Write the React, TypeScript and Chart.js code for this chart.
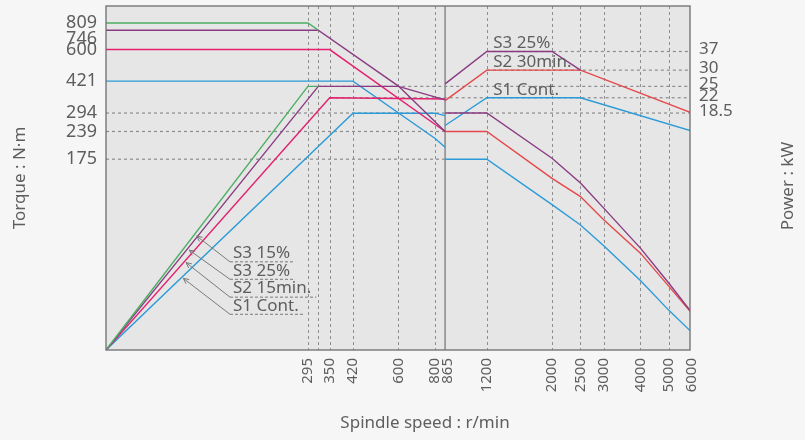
import React, { useEffect, useRef } from "react";
import { Chart, registerables } from "chart.js";

Chart.register(...registerables);

const FONT = "'Noto Sans', sans-serif";
const TEXT = "#5e5e5e";

// ---- axes ----
const SPEED_TICKS = [295, 320, 350, 420, 600, 800, 865, 1200, 2000, 2500, 3000, 4000, 5000, 6000];
const SPEED_LABELS = ["295", "", "350", "420", "600", "800", "865", "1200", "2000", "2500", "3000", "4000", "5000", "6000"];
const TORQUE_TICKS = [175, 239, 294, 421, 600, 746, 809];
const POWER_TICKS = [18.5, 22, 25, 30, 37];
const WINDING_SWITCH = 865;
const SPEED_RANGE = [60.6, 5900];
const TORQUE_RANGE = [20.5, 979];
const POWER_RANGE = [1.292, 61.7];

type Pt = [number, number];

// ---- low-speed winding (rpm, N·m / kW) ----
const S3_15_TORQUE: Pt[] = [[60.6, 809], [295, 809], [320, 746]];
const S3_15_POWER: Pt[] = [[60.6, 1.292], [295, 25], [320, 25]];
const S3_25_TORQUE_LOW: Pt[] = [[60.6, 746], [320, 746], [600, 398], [865, 239]];
const S3_25_POWER_LOW: Pt[] = [[60.6, 1.292], [320, 25], [600, 25], [865, 21.5]];
const S2_15_TORQUE: Pt[] = [[60.6, 600], [350, 600], [865, 239]];
const S2_15_POWER: Pt[] = [[60.6, 1.292], [350, 22], [865, 21.7]];
const S1_TORQUE_LOW: Pt[] = [[60.6, 421], [420, 421], [800, 221], [865, 200]];
const S1_POWER_LOW: Pt[] = [[60.6, 1.292], [420, 18.5], [800, 18.5], [865, 18]];

// ---- high-speed winding ----
const S3_25_TORQUE_HIGH: Pt[] = [[865, 294], [1200, 294], [2000, 177], [2500, 134], [3000, 101], [4000, 64.4], [5000, 43.4], [6000, 31]];
const S3_25_POWER_HIGH: Pt[] = [[865, 25.7], [1200, 37], [2000, 37], [2500, 30]];
const S2_30_TORQUE: Pt[] = [[865, 239], [1200, 239], [2000, 141], [2500, 115], [3000, 88.5], [4000, 60.9], [5000, 41.9], [6000, 30.8]];
const S2_30_POWER: Pt[] = [[865, 21.3], [1200, 30], [2500, 30], [6000, 18.5]];
const S1_TORQUE_HIGH: Pt[] = [[865, 175], [1200, 175], [2000, 105], [2500, 83.6], [3000, 66.1], [4000, 44.8], [5000, 32], [6000, 24.9]];
const S1_POWER_HIGH: Pt[] = [[865, 16.1], [1200, 22], [2500, 22], [6000, 15.1]];

// ---- dotted reference lines ----
const TORQUE_REF_VALUES = [294, 239, 175];
const TORQUE_REF_FROM = [60.6, 60.6, 60.6];
const TORQUE_REF_TO = [6000, 865, 865];
const POWER_REF_VALUES = [37, 30, 25, 22];
const POWER_REF_FROM = [1200, 1200, 320, 350];
const POWER_REF_TO = [6000, 6000, 6000, 6000];

// ---- in-plot labels ----
const HIGH_LABELS = ["S3 25%", "S2 30min.", "S1 Cont."];
const HIGH_LABEL_RPM = 1262;
const HIGH_LABEL_KW = [40.6, 32.7, 24.0];
const LEADER_LABELS = ["S3 15%", "S3 25%", "S2 15min.", "S1 Cont."];
const LEADER_TIP_RPM = [123.4, 116.4, 113.5, 111.1];
const LEADER_TIP_KW = [4.65, 3.97, 3.45, 2.89];
const LEADER_ELBOW_RPM = 160.2;
const LEADER_ELBOW_KW = [3.48, 2.86, 2.34, 1.93];

const COLORS = {
  green: "#4cae63",
  purple: "#8a3b82",
  pink: "#e4206f",
  red: "#e5484b",
  blue: "#2b9bd8",
  ref: "#8c8c8c",
};

const toXY = (pts: Pt[]) => pts.map(([x, y]) => ({ x, y }));

function series(pts: Pt[], color: string, axis: string) {
  return {
    data: toXY(pts),
    borderColor: color,
    borderWidth: 1.4,
    pointRadius: 0,
    fill: false,
    tension: 0,
    yAxisID: axis,
    order: 1,
  };
}

function refLine(from: number, to: number, v: number, axis: string) {
  return {
    data: [{ x: from, y: v }, { x: to, y: v }],
    borderColor: COLORS.ref,
    borderWidth: 1.2,
    borderDash: [3, 3],
    pointRadius: 0,
    fill: false,
    yAxisID: axis,
    order: 10,
  };
}

const noPad = (s: any) => {
  s.paddingTop = 0;
  s.paddingBottom = 0;
  s.paddingLeft = 0;
  s.paddingRight = 0;
};

const decorPlugin = {
  id: "decor",
  beforeDraw(chart: any) {
    const { ctx, chartArea: a } = chart;
    const xs = chart.scales.x;
    ctx.save();
    ctx.fillStyle = "#e6e6e6";
    ctx.fillRect(a.left, a.top, a.right - a.left, a.bottom - a.top);
    ctx.strokeStyle = "#8f8f8f";
    ctx.lineWidth = 1;
    ctx.setLineDash([3, 3]);
    for (const v of SPEED_TICKS) {
      if (v === WINDING_SWITCH || v === 6000) continue;
      const px = Math.round(xs.getPixelForValue(v)) + 0.5;
      ctx.beginPath();
      ctx.moveTo(px, a.top);
      ctx.lineTo(px, a.bottom);
      ctx.stroke();
    }
    ctx.restore();
  },
  afterDatasetsDraw(chart: any) {
    const { ctx, chartArea: a } = chart;
    const xs = chart.scales.x;
    const p = chart.scales.y2;
    ctx.save();
    ctx.strokeStyle = "#6e6e6e";
    ctx.lineWidth = 1.3;
    ctx.strokeRect(a.left, a.top, a.right - a.left, a.bottom - a.top);

    ctx.font = `17px ${FONT}`;
    ctx.fillStyle = TEXT;
    ctx.textBaseline = "middle";
    ctx.textAlign = "left";
    HIGH_LABELS.forEach((t, i) => {
      ctx.fillText(t, xs.getPixelForValue(HIGH_LABEL_RPM), p.getPixelForValue(HIGH_LABEL_KW[i]));
    });

    LEADER_LABELS.forEach((t, i) => {
      const tx = xs.getPixelForValue(LEADER_TIP_RPM[i]);
      const ty = p.getPixelForValue(LEADER_TIP_KW[i]);
      const ex = xs.getPixelForValue(LEADER_ELBOW_RPM);
      const ey = p.getPixelForValue(LEADER_ELBOW_KW[i]);
      const w = ctx.measureText(t).width;
      ctx.strokeStyle = "#7a7a7a";
      ctx.lineWidth = 1;
      ctx.setLineDash([]);
      ctx.beginPath();
      ctx.moveTo(ex, ey);
      ctx.lineTo(tx, ty);
      ctx.stroke();
      const ang = Math.atan2(ey - ty, ex - tx);
      const L = 6;
      const s = 0.45;
      ctx.beginPath();
      ctx.moveTo(tx + L * Math.cos(ang + s), ty + L * Math.sin(ang + s));
      ctx.lineTo(tx, ty);
      ctx.lineTo(tx + L * Math.cos(ang - s), ty + L * Math.sin(ang - s));
      ctx.stroke();
      ctx.setLineDash([3, 2]);
      ctx.beginPath();
      ctx.moveTo(ex, ey);
      ctx.lineTo(ex + 3 + w + 5, ey);
      ctx.stroke();
      ctx.fillText(t, ex + 3, ey - 8.5);
    });
    ctx.restore();
  },
  afterDraw(chart: any) {
    const { ctx } = chart;
    ctx.save();
    ctx.fillStyle = TEXT;
    ctx.font = `17px ${FONT}`;
    ctx.textAlign = "center";
    ctx.textBaseline = "middle";
    ctx.fillText("Spindle speed : r/min", 425, 423);
    ctx.save();
    ctx.translate(20, 178);
    ctx.rotate(-Math.PI / 2);
    ctx.fillText("Torque : N·m", 0, 0);
    ctx.restore();
    ctx.save();
    ctx.translate(788, 186);
    ctx.rotate(-Math.PI / 2);
    ctx.fillText("Power : kW", 0, 0);
    ctx.restore();
    ctx.restore();
  },
};

export default function App() {
  const ref = useRef<HTMLCanvasElement | null>(null);

  useEffect(() => {
    if (!ref.current) return;
    const datasets: any[] = [
      series(S3_15_TORQUE, COLORS.green, "y"),
      series(S3_15_POWER, COLORS.green, "y2"),
      series(S3_25_TORQUE_LOW, COLORS.purple, "y"),
      series(S3_25_POWER_LOW, COLORS.purple, "y2"),
      series(S2_15_TORQUE, COLORS.pink, "y"),
      series(S2_15_POWER, COLORS.pink, "y2"),
      series(S1_TORQUE_LOW, COLORS.blue, "y"),
      series(S1_POWER_LOW, COLORS.blue, "y2"),
      series(S3_25_TORQUE_HIGH, COLORS.purple, "y"),
      series(S3_25_POWER_HIGH, COLORS.purple, "y2"),
      series(S2_30_TORQUE, COLORS.red, "y"),
      series(S2_30_POWER, COLORS.red, "y2"),
      series(S1_TORQUE_HIGH, COLORS.blue, "y"),
      series(S1_POWER_HIGH, COLORS.blue, "y2"),
      {
        data: [{ x: WINDING_SWITCH, y: TORQUE_RANGE[0] }, { x: WINDING_SWITCH, y: TORQUE_RANGE[1] }],
        borderColor: "#8e8e8e",
        borderWidth: 1.6,
        pointRadius: 0,
        yAxisID: "y",
        order: 5,
      },
    ];
    TORQUE_REF_VALUES.forEach((v, i) => datasets.push(refLine(TORQUE_REF_FROM[i], TORQUE_REF_TO[i], v, "y")));
    POWER_REF_VALUES.forEach((v, i) => datasets.push(refLine(POWER_REF_FROM[i], POWER_REF_TO[i], v, "y2")));

    const chart = new Chart(ref.current, {
      type: "line",
      data: { datasets },
      plugins: [decorPlugin],
      options: {
        animation: false,
        responsive: false,
        events: [],
        layout: { padding: { top: 6, left: 0, right: 0, bottom: 0 } },
        plugins: { legend: { display: false }, tooltip: { enabled: false }, title: { display: false } },
        scales: {
          x: {
            type: "logarithmic",
            position: "bottom",
            min: SPEED_RANGE[0],
            max: SPEED_RANGE[1],
            grid: { display: false, drawTicks: false },
            border: { display: false },
            afterBuildTicks: (s: any) => {
              s.ticks = SPEED_TICKS.map((v) => ({ value: v }));
            },
            afterFit: (s: any) => {
              s.height = 90;
              noPad(s);
            },
            ticks: {
              autoSkip: false,
              minRotation: 90,
              maxRotation: 90,
              padding: 8,
              color: TEXT,
              font: (c: any) => ({
                family: FONT,
                size: 15,
                lineHeight: c.tick && c.tick.value === WINDING_SWITCH ? 0.2 : 1.2,
              }),
              callback: (v: any, i: number) => (v === WINDING_SWITCH ? ["", SPEED_LABELS[i]] : SPEED_LABELS[i]),
            },
          },
          y: {
            type: "logarithmic",
            position: "left",
            min: TORQUE_RANGE[0],
            max: TORQUE_RANGE[1],
            grid: { display: false, drawTicks: false },
            border: { display: false },
            afterBuildTicks: (s: any) => {
              s.ticks = TORQUE_TICKS.map((v) => ({ value: v }));
            },
            afterFit: (s: any) => {
              s.width = 106;
              noPad(s);
            },
            ticks: {
              autoSkip: false,
              padding: 9,
              color: TEXT,
              font: (c: any) => ({
                family: FONT,
                size: 18,
                lineHeight: c.tick && c.tick.value === 746 ? 0.93 : 1.2,
              }),
              callback: (v: any) => (v === 746 ? ["", "746"] : String(v)),
            },
          },
          y2: {
            type: "logarithmic",
            position: "right",
            min: POWER_RANGE[0],
            max: POWER_RANGE[1],
            grid: { display: false, drawTicks: false },
            border: { display: false },
            afterBuildTicks: (s: any) => {
              s.ticks = POWER_TICKS.map((v) => ({ value: v }));
            },
            afterFit: (s: any) => {
              s.width = 115;
              noPad(s);
            },
            ticks: {
              autoSkip: false,
              padding: 9,
              labelOffset: -2,
              color: TEXT,
              font: { family: FONT, size: 17 },
              callback: (v: any) => String(v),
            },
          },
        },
      } as any,
    });
    return () => chart.destroy();
  }, []);

  return (
    <div style={{ position: "fixed", left: 0, top: 0, width: 805, height: 440, background: "#f6f6f6" }}>
      <canvas ref={ref} width={805} height={440} style={{ display: "block" }} />
    </div>
  );
}
